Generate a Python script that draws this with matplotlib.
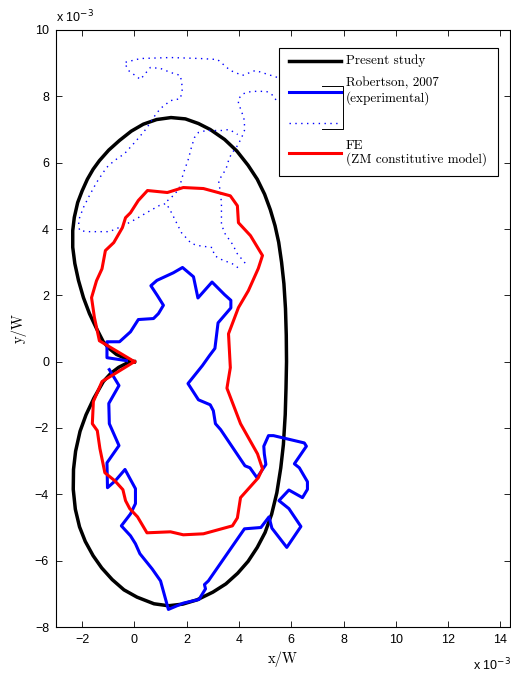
import numpy as np
import matplotlib
matplotlib.use('Agg')
import matplotlib.pyplot as plt
from matplotlib.lines import Line2D
from matplotlib.patches import Rectangle

# all coordinates in units of 1e-3 (x/W, y/W)

# Present study: plastic zone boundary
present_x = [0, -0.30, -0.69, -0.97, -1.19, -1.45, -1.72, -1.95, -2.14, -2.28, -2.36, -2.36,
             -2.30, -2.17, -2.00, -1.80, -1.58, -1.34, -0.98, -0.57, -0.12, 0.34, 0.85, 1.40,
             1.95, 2.45, 2.90, 3.45, 3.92, 4.35, 4.70, 4.98, 5.20, 5.38, 5.52, 5.63, 5.72,
             5.78, 5.81, 5.82, 5.80, 5.77, 5.70, 5.60, 5.45, 5.25, 5.00, 4.70, 4.35, 3.95,
             3.50, 3.00, 2.40, 1.85, 1.30, 0.75, 0.10, -0.40, -0.85, -1.25, -1.58, -1.88,
             -2.10, -2.26, -2.34, -2.33, -2.25, -2.08, -1.85, -1.55, -1.19, -0.90, -0.60,
             -0.30, 0]
present_y = [0, 0.08, 0.22, 0.40, 0.60, 1.00, 1.45, 1.93, 2.45, 2.96, 3.45, 3.95,
             4.35, 4.80, 5.15, 5.50, 5.80, 6.06, 6.38, 6.67, 6.95, 7.16, 7.30, 7.36,
             7.32, 7.18, 7.00, 6.70, 6.35, 5.92, 5.50, 5.05, 4.58, 4.10, 3.60, 3.00, 2.35,
             1.60, 0.80, 0.00, -0.80, -1.60, -2.50, -3.20, -3.95, -4.60, -5.15, -5.60, -6.02, -6.38,
             -6.70, -6.95, -7.18, -7.31, -7.36, -7.30, -7.10, -6.88, -6.57, -6.22, -5.85, -5.42,
             -4.98, -4.45, -3.85, -3.25, -2.70, -2.10, -1.60, -1.10, -0.60, -0.35, -0.17,
             -0.05, 0]

# Robertson 2007, experimental (solid)
exp_x = [-0.30, -1.05, -1.05, -0.57, -0.15, 0.15, 0.73, 0.92, 1.11, 0.88, 0.63, 0.86, 1.49,
         1.84, 2.26, 2.43, 2.97, 3.45, 3.69, 3.69, 3.20, 3.08, 2.87, 2.60, 2.05, 2.45, 2.90,
         3.02, 3.10, 3.30, 4.23, 4.42, 4.69, 5.03, 4.97, 4.95, 5.13, 5.32, 6.50, 6.58, 6.12,
         6.31, 6.62, 6.62, 6.43, 5.91, 5.53, 5.91, 6.37, 5.83, 5.26, 5.15, 4.84, 4.21, 2.83,
         2.68, 2.72, 2.47, 1.87, 1.30, 1.00, 0.68, 0.21, 0.04, -0.15, -0.50, -0.15, 0.04,
         0.04, -0.36, -0.73, -1.03, -1.05, -0.59, -0.96, -0.98, -0.59, -0.96]
exp_y = [0.03, 0.12, 0.60, 0.60, 0.90, 1.27, 1.30, 1.45, 1.70, 1.99, 2.29, 2.45, 2.68,
         2.84, 2.56, 1.92, 2.40, 2.02, 1.85, 1.62, 1.17, 0.40, 0.18, -0.12, -0.66, -1.15, -1.30,
         -1.48, -1.87, -2.05, -3.14, -3.20, -3.50, -3.10, -2.78, -2.55, -2.23, -2.23, -2.45, -2.55, -3.08,
         -3.20, -3.62, -3.85, -4.10, -3.87, -4.19, -4.43, -4.97, -5.60, -5.02, -4.68, -5.00, -5.04, -6.61,
         -6.72, -6.85, -7.17, -7.28, -7.47, -6.61, -6.25, -5.79, -5.49, -5.25, -4.95, -4.59, -4.28,
         -3.83, -3.25, -3.59, -3.80, -3.05, -2.53, -1.87, -1.26, -0.72, -0.24]

# Robertson 2007, experimental (dotted), NaN separates pieces
dot_x = [6.30, 5.47, 4.63, 4.13, 3.67, 3.18, 2.52, 1.38, 0.23, -0.38, -0.23, 0.23, 0.61, 1.00,
         1.38, 1.76, 1.84, 1.76, 1.38, 0.99, 0.73, 0.46, 0.08, -0.38, -0.77, -1.07, -1.45,
         -1.72, -1.95, -2.14, -2.10, -1.76, -0.96, -0.42, 0.08, 0.46, 0.96, 1.22, 1.42, 1.61,
         1.80, 2.18, 2.45, 2.98, 3.06, 3.33, 3.75, 4.06, np.nan,
         1.26, 1.55, 1.72, 1.87, 2.07, 2.18, 2.30, 2.45, 2.75, 3.06, 3.33, 3.63, 3.95, np.nan,
         5.60, 5.43, 5.32, 5.05, 4.48, 4.17, 3.98, 3.98, 4.09, 4.21, 4.21, 4.09, 3.90, 3.71,
         3.60, 3.52, 3.40, 3.22, 3.27, 3.31, 3.33, 3.33, 3.44, 3.60, 3.79, 3.90, 4.09, 4.28]
dot_y = [8.35, 8.57, 8.78, 8.63, 8.78, 9.11, 9.14, 9.17, 9.14, 9.02, 8.78, 8.51, 8.87, 8.84,
         8.72, 8.63, 8.24, 7.93, 7.87, 7.63, 7.36, 7.03, 6.67, 6.27, 6.06, 5.85, 5.40,
         5.01, 4.65, 4.25, 3.95, 3.92, 3.92, 4.10, 4.31, 4.49, 4.71, 4.77, 4.49, 4.19,
         3.89, 3.56, 3.50, 3.44, 3.20, 3.08, 2.95, 2.78, np.nan,
         4.85, 5.05, 5.25, 5.67, 6.12, 6.46, 6.76, 6.91, 6.97, 6.97, 6.97, 7.00, 6.85, np.nan,
         7.80, 7.87, 8.02, 8.15, 8.15, 8.08, 7.93, 7.78, 7.57, 7.27, 6.97, 6.73, 6.46, 6.27,
         6.06, 5.85, 5.67, 5.46, 5.20, 4.95, 4.77, 4.16, 3.89, 3.71, 3.50, 3.29, 3.11, 2.93]

# FE (ZM constitutive model)
fe_x = [0, -1.34, -1.53, -1.64, -1.45, -1.24, -1.11, -0.79, -0.46, -0.34, -0.15, 0.15, 0.50,
        1.26, 1.87, 2.64, 3.67, 3.94, 3.98, 4.44, 4.90, 4.74, 4.36, 3.98, 3.60, 3.67, 3.54,
        4.06, 4.71, 4.90, 4.74, 4.06, 3.94, 3.75, 2.64, 1.87, 1.38, 0.48, 0.12, -0.18, -0.34,
        -0.44, -0.75, -1.13, -1.32, -1.42, -1.61, -1.57, -1.24, 0]
fe_y = [0, 0.63, 1.33, 1.93, 2.44, 2.80, 3.35, 3.59, 4.04, 4.34, 4.49, 4.86, 5.16,
        5.10, 5.25, 5.22, 5.00, 4.70, 4.19, 3.80, 3.20, 2.81, 2.14, 1.63, 0.84, -0.18, -0.80,
        -1.87, -2.78, -3.23, -3.50, -4.10, -4.71, -4.95, -5.19, -5.22, -5.13, -5.16, -4.68, -4.43, -4.19,
        -3.86, -3.59, -3.35, -2.62, -2.08, -1.87, -1.20, -0.60, 0]

xticks = list(range(-2, 15, 2))
yticks = list(range(-8, 11, 2))

W, H = 511, 677
fig = plt.figure(figsize=(W / 100, H / 100), dpi=100)
ax = fig.add_axes([56 / W, 50 / H, 454 / W, 597 / H])

ax.plot(present_x, present_y, color='k', lw=2.5, solid_joinstyle='round')
ax.plot(exp_x, exp_y, color=(0, 0, 1), lw=2.2)
ax.plot(dot_x, dot_y, color=(0, 0, 1), lw=1.0, linestyle=(0, (1, 3.2)))
ax.plot(fe_x, fe_y, color=(1, 0, 0), lw=2.2)

ax.set_xlim(-3, 14.37)
ax.set_ylim(-8, 10)
ax.set_xticks(xticks)
ax.set_yticks(yticks)
ax.tick_params(direction='in', top=True, right=True, length=4, width=0.6,
               labelsize=9, pad=5)
for lab in ax.get_xticklabels() + ax.get_yticklabels():
    lab.set_family('Liberation Sans')
for s in ax.spines.values():
    s.set_linewidth(0.8)

ax.set_xlabel('x/W', family='cmr10', fontsize=10.5, labelpad=4)
ax.set_ylabel('y/W', family='cmr10', fontsize=10.5, labelpad=6)

fig.text(56 / W, 1 - 22 / H, r'x 10$^{-3}$', fontsize=9, family='Liberation Sans')
fig.text(473 / W, 1 - 670 / H, r'x 10$^{-3}$', fontsize=9, family='Liberation Sans')

# legend drawn by hand so the bracket lines up with it
def axf(px, py):
    return (px - 56) / 454, (627 - py) / 597

x0, y0 = axf(279, 176)
x1, y1 = axf(498, 48)
ax.add_patch(Rectangle((x0, y0), x1 - x0, y1 - y0, transform=ax.transAxes,
                       facecolor='white', edgecolor='k', lw=0.8, zorder=5))
hx0, _ = axf(289, 0)
hx1, _ = axf(341, 0)
tx, _ = axf(346, 0)
handles = [('k', '-', 2.5, 61, 'Present study', 61),
           ((0, 0, 1), '-', 2.2, 92, 'Robertson, 2007\n(experimental)', 91),
           ((0, 0, 1), (0, (1, 3.2)), 1.0, 123, '', 123),
           ((1, 0, 0), '-', 2.2, 153, 'FE\n(ZM constitutive model)', 153)]
for col, ls, lw, py, txt, ty in handles:
    _, yy = axf(0, py)
    ax.add_line(Line2D([hx0, hx1], [yy, yy], color=col, linestyle=ls, lw=lw,
                       transform=ax.transAxes, zorder=6))
    if txt:
        _, yt = axf(0, ty)
        ax.text(tx, yt, txt, transform=ax.transAxes, family='cmr10', fontsize=9.5,
                va='center', ha='left', linespacing=1.1, zorder=6)

bx0, by0 = axf(322, 86)
bx1, by1 = axf(343, 129)
ax.add_line(Line2D([bx0, bx1, bx1, bx0], [by0, by0, by1, by1], color='k', lw=0.7,
                   transform=ax.transAxes, zorder=6))

fig.savefig('out.png', dpi=100)
